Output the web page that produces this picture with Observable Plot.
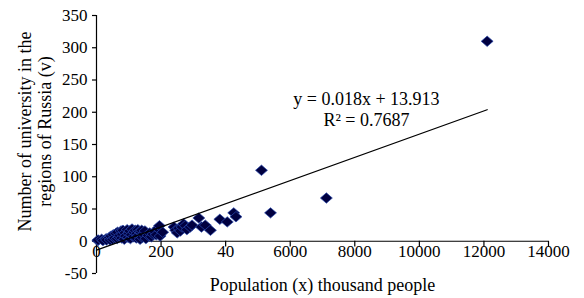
<!DOCTYPE html>
<html>
<head>
<meta charset="utf-8">
<script src="https://cdn.jsdelivr.net/npm/d3@7"></script>
<script src="https://cdn.jsdelivr.net/npm/@observablehq/plot@0.6"></script>
<style>
  html, body { margin: 0; padding: 0; background: #fff; }
  svg text { font-family: 'Liberation Serif', 'Times New Roman', serif; }
</style>
</head>
<body>
<div id="chart"></div>
<script>
// Population of regions (thousand people)
const population = [40, 50, 160, 200, 300, 310, 400, 420, 450, 500, 520, 560, 600, 640, 650, 700, 720, 760, 780, 800,
  820, 860, 880, 900, 950, 980, 1000, 1030, 1050, 1080, 1100, 1150, 1160, 1200, 1230, 1250, 1280, 1300, 1330, 1350,
  1380, 1400, 1420, 1450, 1500, 1530, 1600, 1650, 1700, 1750, 1800, 1850, 1900, 1950, 1970, 2050, 2400, 2450, 2500,
  2550, 2600, 2650, 2700, 2750, 2800, 2900, 2960, 3170, 3250, 3370, 3530, 3820, 4050, 4250, 4320, 5110, 5390, 7120, 12100];
// Number of universities
const universities = [1, 2, 3, 1, 4, 2, 6, 2, 8, 3, 10, 5, 12, 4, 14, 6, 9, 16, 5, 11,
  17, 3, 13, 8, 18, 6, 12, 16, 4, 10, 19, 7, 14, 17, 5, 12, 18, 9, 15, 3,
  14, 17, 6, 11, 16, 4, 9, 13, 7, 11, 15, 10, 20, 24, 8, 14, 22, 17, 13,
  20, 16, 22, 27, 24, 18, 22, 25, 36, 22, 25, 17, 34, 30, 44, 38, 110, 44, 67, 310];

const xTicks = [0, 2000, 4000, 6000, 8000, 10000, 12000, 14000];
const xTickLabels = ["0", "200", "40", "6000", "8000", "10000", "12000", "14000"];
const yTicks = [-50, 0, 50, 100, 150, 200, 250, 300, 350];

// Trend line as drawn
const trendSlope = 0.018;
const trendIntercept = -13.913;
const trendRange = [0, 12100];
const equationText = "y = 0.018x + 13.913\nR\u00b2 = 0.7687";
const equationPos = [8360, 206];

const xTitle = "Population (x) thousand people";
const yTitle = "Number of university in the\nregions of Russia (v)";

const points = population.map((p, i) => ({x: p, y: universities[i]}));
const trend = trendRange.map(x => ({x, y: trendSlope * x + trendIntercept}));

const serif = "'Liberation Serif', 'Times New Roman', serif";

const wideDiamond = {
  draw(context, size) {
    const r = Math.sqrt(size / Math.PI);
    const w = r * 1.15;
    context.moveTo(-w, 0);
    context.lineTo(0, -r);
    context.lineTo(w, 0);
    context.lineTo(0, r);
    context.closePath();
  }
};

const chart = Plot.plot({
  width: 584,
  height: 298,
  marginLeft: 96,
  marginRight: 36,
  marginTop: 15,
  marginBottom: 25,
  style: {fontFamily: serif, fontSize: "17px", color: "#000", background: "#fff"},
  x: {domain: [0, 14000], axis: null},
  y: {domain: [-50, 350], axis: null},
  marks: [
    Plot.axisY({ticks: yTicks, tickSize: 4, tickPadding: 5, label: null, tickFormat: d => String(d), fontFamily: serif, fontSize: 17, strokeWidth: 1.2}),
    Plot.ruleX([0], {y1: -50, y2: 350, stroke: "#000", strokeWidth: 1.2}),
    Plot.ruleY([0], {x1: 0, x2: 14000, stroke: "#000", strokeWidth: 1.2}),
    Plot.ruleX(xTicks, {x: d => d, y1: 0, y2: -9, stroke: "#000", strokeWidth: 1.2}),
    Plot.text(xTicks, {x: d => d, y: 0, text: (d, i) => xTickLabels[i], dy: 10, lineAnchor: "middle", fontSize: 17, fontFamily: serif}),
    Plot.dot(points, {x: "x", y: "y", symbol: wideDiamond, r: 5.2, fill: "#000040", stroke: "#2a4ab0", strokeWidth: 0.7}),
    Plot.line(trend, {x: "x", y: "y", stroke: "#000", strokeWidth: 1.3}),
    Plot.text([equationText], {x: equationPos[0], y: equationPos[1], text: d => d, fontSize: 18, lineHeight: 1.2, lineAnchor: "middle", fontFamily: serif}),
    Plot.text([xTitle], {frameAnchor: "bottom", text: d => d, dy: 12, fontSize: 18, lineAnchor: "middle", fontFamily: serif}),
    Plot.text([yTitle], {frameAnchor: "left", text: d => d, dx: -62, dy: -13, rotate: -90, textAnchor: "middle", fontSize: 18, lineHeight: 1.1, lineAnchor: "middle", fontFamily: serif})
  ]
});
document.getElementById("chart").appendChild(chart);
</script>
</body>
</html>
